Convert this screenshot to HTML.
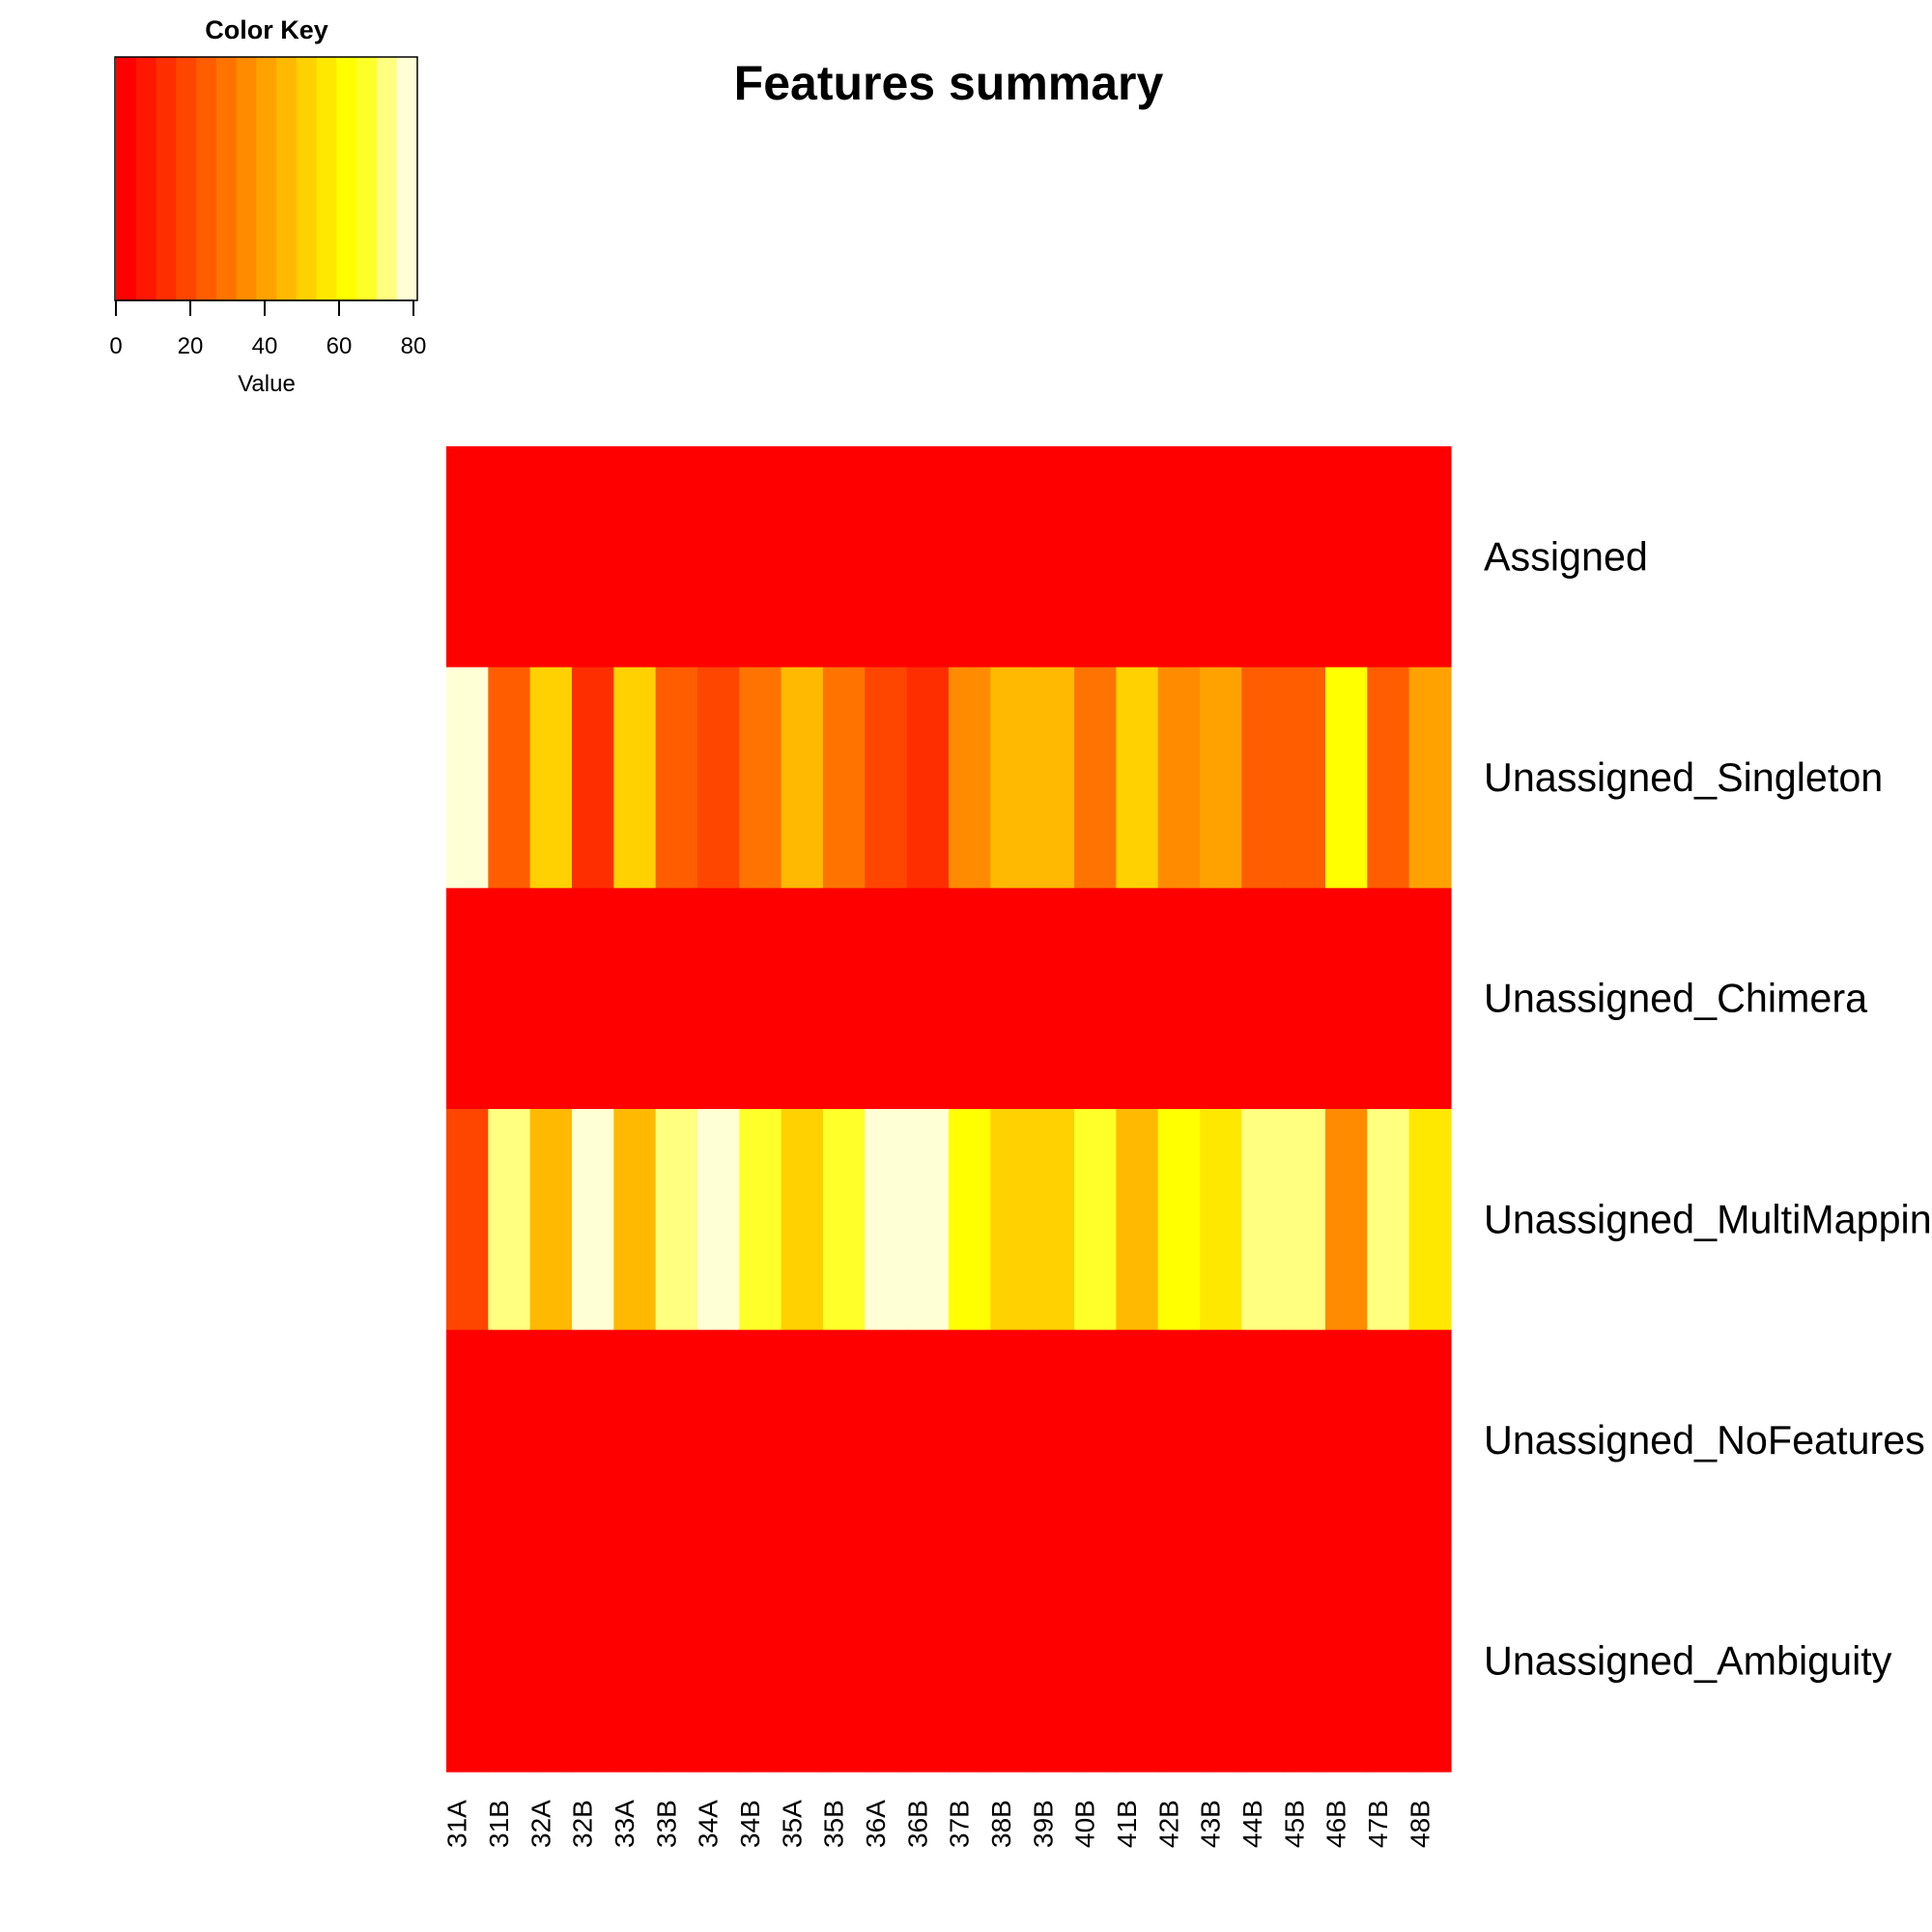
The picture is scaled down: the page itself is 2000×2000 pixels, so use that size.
<!DOCTYPE html>
<html><head><meta charset="utf-8"><style>
html,body{margin:0;padding:0;background:#fff}
svg{display:block;font-family:"Liberation Sans",Arial,sans-serif}
</style></head><body>
<svg id="chart" width="2000" height="2000" viewBox="0 0 2000 2000">
<text x="982" y="103" font-size="50" font-weight="bold" text-anchor="middle">Features summary</text>
<g id="key"></g>
<g id="cells"></g>
<g id="rowlabels"></g>
<g id="collabels"></g>
</svg>
<script>
const samples = ["31A","31B","32A","32B","33A","33B","34A","34B","35A","35B","36A","36B","37B","38B","39B","40B","41B","42B","43B","44B","45B","46B","47B","48B"];
const features = ["Assigned","Unassigned_Singleton","Unassigned_Chimera","Unassigned_MultiMapping","Unassigned_NoFeatures","Unassigned_Ambiguity"];
const assigned = [1,1,1,1,1,1,1,1,1,1,1,1,1,1,1,1,1,1,1,1,1,1,1,1];
const singleton = [78,24,51,13,51,24,19,30,46,30,19,13,35,46,46,30,51,35,40,24,24,62,24,40];
const chimera = [0,0,0,0,0,0,0,0,0,0,0,0,0,0,0,0,0,0,0,0,0,0,0,0];
const multimapping = [19,73,46,78,46,73,78,67,51,67,78,78,62,51,51,67,46,62,57,73,73,35,73,57];
const nofeatures = [1,1,1,1,1,1,1,1,1,1,1,1,1,1,1,1,1,1,1,1,1,1,1,1];
const ambiguity = [0,0,0,0,0,0,0,0,0,0,0,0,0,0,0,0,0,0,0,0,0,0,0,0];
const keyTicks = [0,20,40,60,80];
const keyMax = 80.9;
const nBins = 15;

const series = [assigned, singleton, chimera, multimapping, nofeatures, ambiguity];
const NS = "http://www.w3.org/2000/svg";
function mk(tag, attrs, parent){const e=document.createElementNS(NS,tag);for(const k in attrs)e.setAttribute(k,attrs[k]);parent.appendChild(e);return e;}
const palette = [];
for(let k=0;k<12;k++){const g=Math.round(k/11*255);palette.push(`rgb(255,${g},0)`);}
[5/6,1/2,1/6].forEach(s=>{const b=Math.round((1-s)*255);palette.push(`rgb(255,255,${b})`);});
function colorOf(v){let i=Math.floor(v/keyMax*nBins);return palette[Math.max(0,Math.min(nBins-1,i))];}

const X0=462,X1=1502,Y0=462,Y1=1834;
const cw=(X1-X0)/samples.length, rh=(Y1-Y0)/features.length;
const xPos=i=>X0+i*cw, yPos=j=>Y0+j*rh;
const cells=document.getElementById('cells');
series.forEach((vals,j)=>{vals.forEach((v,i)=>{
  const r=mk('rect',{x:xPos(i),y:yPos(j),width:cw+0.6,height:rh+0.6,fill:colorOf(v)},cells);
  
  
});});
const rl=document.getElementById('rowlabels');
features.forEach((f,j)=>{
  const t=mk('text',{x:1536,y:yPos(j)+rh/2+14,'font-size':41.3},rl);t.textContent=f;
  
  
});
const cl=document.getElementById('collabels');
samples.forEach((s,i)=>{
  const cx=xPos(i)+cw/2-1;
  const t=mk('text',{x:0,y:0,'font-size':28,'text-anchor':'start',transform:`translate(${cx},1913) rotate(-90)`},cl);t.textContent=s;
  
  
});
const key=document.getElementById('key');
const KX0=119,KX1=432,KY0=59,KY1=311;
const kx=v=>KX0+1+v/80*(428-120);
for(let b=0;b<nBins;b++){
  const a=kx(b*keyMax/nBins), c=kx((b+1)*keyMax/nBins);
  const r=mk('rect',{x:a,y:KY0,width:c-a+0.5,height:KY1-KY0,fill:palette[b]},key);
  
  
}
mk('rect',{x:KX0,y:KY0,width:KX1-KX0,height:KY1-KY0,fill:'none',stroke:'#000','stroke-width':1.5},key);
mk('line',{x1:kx(0),x2:kx(80),y1:KY1,y2:KY1,stroke:'#000','stroke-width':1.5},key);
keyTicks.forEach(v=>{
  mk('line',{x1:kx(v),x2:kx(v),y1:KY1,y2:KY1+16,stroke:'#000','stroke-width':2},key);
  const t=mk('text',{x:kx(v),y:366,'font-size':24,'text-anchor':'middle'},key);t.textContent=v;
  
  
});
const kt=mk('text',{x:276,y:40,'font-size':27,'font-weight':'bold','text-anchor':'middle'},key);kt.textContent='Color Key';


const vt=mk('text',{x:276,y:405,'font-size':24,'text-anchor':'middle'},key);vt.textContent='Value';


</script>
</body></html>
